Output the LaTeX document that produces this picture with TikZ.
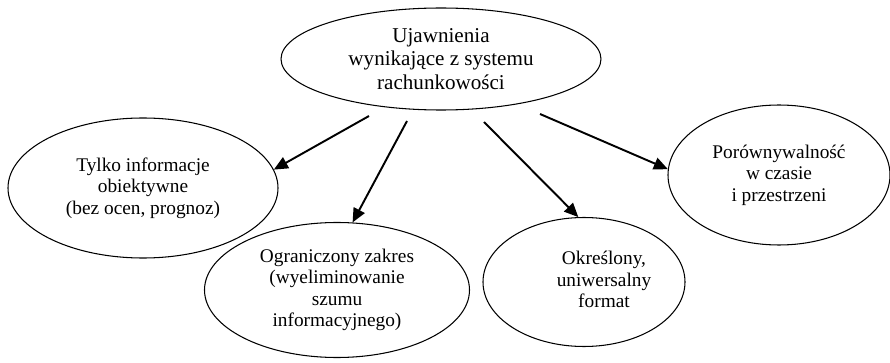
\documentclass[tikz,border=0pt]{standalone}
\usepackage{fontspec}
\setmainfont{Liberation Serif}
\usetikzlibrary{arrows.meta, shapes.geometric}

\begin{document}
\begin{tikzpicture}[
    elipsa/.style={draw, ellipse, line width=0.6pt, inner sep=0pt, align=center,
      font=\fontsize{11}{12.2}\selectfont},
    strzalka/.style={-{Triangle[length=8pt,width=7pt]}, line width=1.1pt}]
    \useasboundingbox (0,0) rectangle (17.8,7.24);
    % Central node
    \node[elipsa, minimum width=6.4cm, minimum height=2.04cm,
          font=\fontsize{12}{13.4}\selectfont]
      (ujawnienia) at (8.82, 6.06) {Ujawnienia\\wynikające z systemu\\rachunkowości};
    % Features
    \node[elipsa, minimum width=5.4cm, minimum height=2.8cm]
      (obiektywne) at (2.86, 3.48) {Tylko informacje\\obiektywne\\(bez ocen, prognoz)};
    \node[elipsa, minimum width=5.3cm, minimum height=2.7cm]
      (zakres) at (6.74, 1.44) {Ograniczony zakres\\(wyeliminowanie\\szumu\\informacyjnego)};
    \node[elipsa, minimum width=4.04cm, minimum height=2.58cm]
      (format) at (11.68, 1.60)
      {\hspace*{8mm}\begin{tabular}{@{}c@{}}Określony,\\uniwersalny\\format\end{tabular}};
    \node[elipsa, minimum width=4.44cm, minimum height=2.8cm]
      (porownywalnosc) at (15.58, 3.74) {Porównywalność\\w czasie\\i przestrzeni};
    % Arrow starts
    \coordinate (s1) at (7.38, 4.92);
    \coordinate (s2) at (8.14, 4.82);
    \coordinate (s3) at (9.68, 4.80);
    \coordinate (s4) at (10.80, 4.96);
    % Arrows
    \draw[strzalka] (s1) -- (obiektywne.8);
    \draw[strzalka] (s2) -- (zakres.77);
    \draw[strzalka] (s3) -- (format.95);
    \draw[strzalka] (s4) -- (porownywalnosc.177);
\end{tikzpicture}
\end{document}
